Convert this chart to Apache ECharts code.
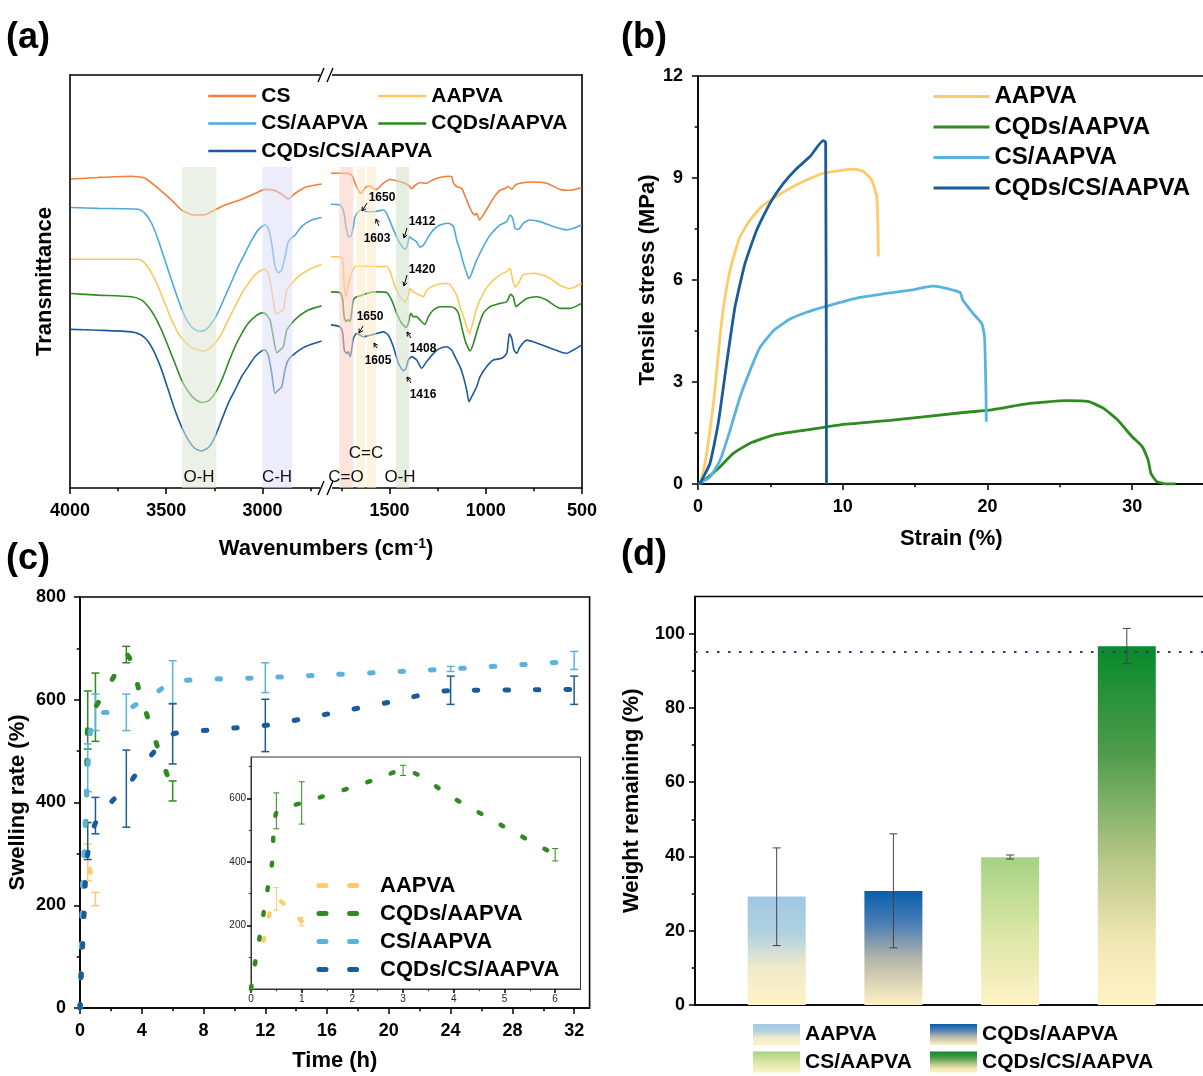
<!DOCTYPE html>
<html>
<head>
<meta charset="utf-8">
<script src="https://cdn.jsdelivr.net/npm/echarts@6/dist/echarts.min.js"></script>
<style>
html, body { margin: 0; padding: 0; background: #fff; }
#chart { width: 1203px; height: 1076px; }
</style>
</head>
<body>
<div id="chart"></div>
<script>
// ---------- (a) FTIR spectra: [wavenumber cm-1, transmittance a.u.] ----------
const ftirCSLeft = [[3995,74.8],[3853,75.2],[3680,75.5],[3610,75.0],[3541,72.5],[3472,69.7],[3420,67.3],[3359,66.1],[3299,66.2],[3247,67.3],[3195,68.5],[3108,69.9],[3039,71.3],[2987,72.3],[2935,72.0],[2900,71.1],[2866,70.0],[2831,71.3],[2779,72.8],[2693,73.6]];
const ftirCSRight = [[1804,76.2],[1722,76.2],[1697,75.8],[1679,73.8],[1662,72.1],[1650,71.3],[1636,72.1],[1619,73.0],[1601,73.1],[1584,72.5],[1567,72.3],[1532,73.8],[1497,74.7],[1463,74.4],[1428,73.9],[1402,73.3],[1385,72.5],[1367,73.3],[1342,73.9],[1307,73.8],[1272,74.7],[1238,75.2],[1194,75.5],[1177,75.4],[1168,73.8],[1151,73.0],[1125,72.5],[1099,69.7],[1073,66.9],[1056,66.1],[1047,66.5],[1033,64.9],[1013,66.1],[987,68.1],[961,70.1],[926,72.1],[900,72.5],[883,73.0],[865,72.3],[848,73.3],[822,73.8],[753,74.1],[684,73.8],[614,72.3],[562,72.1],[502,72.7]];

const ftirCSAAPVALeft = [[3995,67.9],[3853,67.7],[3645,67.5],[3610,66.5],[3576,64.1],[3541,60.0],[3507,55.2],[3472,50.3],[3437,45.5],[3403,41.5],[3368,39.0],[3333,38.0],[3299,38.2],[3264,39.9],[3229,42.7],[3195,46.3],[3160,50.0],[3126,53.6],[3091,56.8],[3056,60.0],[3022,62.5],[2987,63.7],[2970,62.9],[2952,59.2],[2935,53.6],[2918,52.1],[2900,52.8],[2883,56.0],[2866,59.6],[2849,60.6],[2831,61.2],[2797,63.3],[2745,64.9],[2693,65.5]];
const ftirCSAAPVARight = [[1804,68.7],[1757,68.5],[1740,67.3],[1726,63.3],[1717,61.2],[1709,60.8],[1700,61.0],[1688,63.3],[1679,65.7],[1662,66.9],[1645,67.3],[1619,66.9],[1584,66.9],[1558,67.1],[1532,67.3],[1515,66.5],[1497,64.5],[1471,61.6],[1445,59.2],[1419,57.8],[1407,58.8],[1397,60.8],[1385,60.4],[1359,59.6],[1342,58.3],[1324,58.8],[1298,60.8],[1272,62.5],[1238,63.7],[1194,64.1],[1168,63.3],[1151,60.0],[1134,57.6],[1116,54.4],[1099,52.0],[1087,50.7],[1073,52.0],[1047,55.2],[1013,58.4],[978,61.2],[926,63.7],[891,64.5],[874,66.1],[860,65.3],[848,62.9],[831,62.6],[805,64.1],[770,64.9],[718,64.5],[649,63.3],[580,62.5],[545,62.9],[502,63.7]];

const ftirAAPVALeft = [[3995,55.4],[3853,55.4],[3645,55.4],[3610,54.4],[3576,52.0],[3541,48.7],[3507,44.7],[3472,40.7],[3437,37.4],[3403,35.4],[3368,34.0],[3333,33.4],[3307,33.2],[3281,33.6],[3247,35.0],[3212,37.4],[3178,40.7],[3143,43.9],[3108,47.1],[3074,49.5],[3039,51.6],[3004,52.8],[2987,52.9],[2970,52.0],[2952,47.9],[2935,42.7],[2926,42.1],[2909,42.7],[2892,43.1],[2874,47.9],[2848,49.5],[2814,51.2],[2762,52.8],[2693,54.1]];
const ftirAAPVARight = [[1804,56.0],[1757,56.0],[1743,55.2],[1735,48.7],[1726,46.3],[1717,48.7],[1709,50.3],[1697,52.0],[1679,53.6],[1653,53.7],[1619,53.7],[1549,53.6],[1515,53.7],[1497,52.4],[1471,48.7],[1445,46.3],[1419,45.1],[1402,46.7],[1393,48.3],[1376,47.5],[1342,46.7],[1324,46.3],[1307,47.9],[1272,48.9],[1220,49.5],[1194,49.5],[1177,48.7],[1151,46.7],[1134,43.9],[1116,41.5],[1099,39.0],[1085,37.4],[1073,39.0],[1047,43.5],[1013,47.1],[978,49.5],[926,51.6],[891,52.4],[874,53.2],[860,50.3],[848,48.7],[831,49.5],[805,51.6],[753,52.0],[684,51.2],[614,49.1],[562,48.3],[502,49.5]];

const ftirCQDsLeft = [[3995,47.1],[3853,46.7],[3680,46.3],[3628,45.5],[3593,43.9],[3559,41.5],[3524,38.2],[3489,34.2],[3455,30.2],[3420,26.1],[3385,23.3],[3351,21.5],[3316,20.7],[3281,21.1],[3247,22.9],[3212,26.1],[3178,30.2],[3143,34.2],[3108,37.4],[3074,39.9],[3039,41.5],[3004,42.4],[2987,42.3],[2961,40.7],[2944,36.6],[2926,32.8],[2909,33.4],[2892,34.2],[2874,38.2],[2848,39.9],[2814,41.5],[2762,43.1],[2693,44.1]];
const ftirCQDsRight = [[1804,47.5],[1757,47.3],[1743,45.5],[1736,41.5],[1726,40.3],[1714,40.7],[1705,40.3],[1697,42.3],[1688,45.5],[1671,46.3],[1653,46.5],[1619,47.1],[1584,47.5],[1549,47.5],[1515,47.3],[1489,45.5],[1463,42.3],[1437,39.9],[1414,38.9],[1402,39.9],[1390,42.3],[1376,41.5],[1359,41.5],[1342,40.7],[1316,39.6],[1298,41.5],[1272,43.1],[1238,43.9],[1186,43.9],[1160,43.5],[1142,42.3],[1125,39.0],[1108,35.8],[1090,33.8],[1082,33.2],[1064,35.0],[1039,39.0],[1013,42.3],[978,43.9],[926,44.7],[891,45.1],[871,46.9],[857,46.3],[843,43.9],[822,44.7],[787,45.9],[735,46.3],[684,45.5],[614,43.5],[562,43.5],[502,44.7]];

const ftirCQDsCSLeft = [[3995,38.4],[3853,38.2],[3680,37.8],[3628,37.0],[3593,35.4],[3559,32.6],[3524,28.6],[3489,23.7],[3455,18.9],[3420,14.8],[3385,11.6],[3351,9.6],[3316,9.0],[3281,9.8],[3247,12.4],[3212,16.5],[3178,20.5],[3143,23.7],[3108,27.0],[3074,29.4],[3039,31.8],[3004,33.2],[2987,33.4],[2970,32.2],[2952,27.8],[2935,22.9],[2918,23.7],[2900,24.5],[2883,28.6],[2866,31.0],[2831,32.6],[2779,34.2],[2693,35.6]];
const ftirCQDsCSRight = [[1804,39.5],[1757,39.0],[1743,37.4],[1735,33.4],[1722,32.6],[1714,33.0],[1705,31.8],[1697,33.4],[1688,36.2],[1671,37.4],[1653,37.0],[1636,36.6],[1601,37.0],[1567,37.4],[1532,37.8],[1506,37.0],[1480,34.2],[1454,30.2],[1428,28.4],[1414,29.0],[1402,31.0],[1385,31.8],[1359,31.0],[1333,29.0],[1307,30.6],[1272,32.6],[1238,33.8],[1203,34.2],[1177,33.4],[1160,31.8],[1134,29.4],[1116,26.9],[1099,23.7],[1087,20.9],[1073,22.1],[1056,23.7],[1047,24.5],[1030,26.9],[995,29.4],[961,31.0],[917,31.4],[891,32.6],[877,37.4],[865,36.2],[853,33.4],[839,32.6],[822,34.2],[787,35.8],[753,35.4],[684,34.2],[614,33.0],[580,32.6],[545,33.4],[502,34.6]];

// shaded absorption bands [from, to] in cm-1, and their height
const ftirBandsLeft = [[3418, 3240], [3000, 2845]];
const ftirBandsRight = [[1761, 1688], [1670, 1627], [1618, 1570], [1466, 1397]];
const ftirBandTop = 77.7;

// ---------- (b) tensile curves: [strain %, stress MPa] ----------
const tensileAAPVA = [[0,0],[0.14,0.02],[0.48,0.61],[0.83,1.59],[1.17,2.76],[1.52,4.33],[1.87,5.51],[2.33,6.49],[2.9,7.27],[3.59,7.76],[4.4,8.16],[5.2,8.4],[6.36,8.7],[7.51,8.94],[8.66,9.14],[9.81,9.22],[10.85,9.26],[11.43,9.19],[12.0,8.94],[12.35,8.45],[12.43,7.6],[12.46,6.69]];
const tensileCQDs = [[0,0],[0.14,0.02],[1.29,0.41],[2.44,0.9],[3.59,1.2],[5.21,1.44],[7.51,1.59],[9.81,1.74],[13.27,1.87],[18.5,2.11],[20.3,2.18],[22.9,2.37],[25.4,2.45],[27,2.42],[28,2.23],[29,1.88],[30,1.39],[30.7,1.1],[31.1,0.71],[31.3,0.31],[31.7,0.07],[32.4,0],[33,0]];
const tensileCS = [[0,0],[0.14,0.02],[0.83,0.2],[1.52,0.69],[2.21,1.57],[2.9,2.55],[3.59,3.33],[4.29,4.02],[5.21,4.51],[6.36,4.85],[7.51,5.05],[8.66,5.2],[9.81,5.34],[10.96,5.47],[12.6,5.58],[14.7,5.7],[16.2,5.82],[16.7,5.8],[18.1,5.64],[18.3,5.41],[19.0,5.02],[19.6,4.73],[19.8,4.33],[19.9,2.67],[19.92,1.83]];
const tensileCQDsCS = [[0,0],[0.14,0.02],[0.83,0.61],[1.4,1.79],[1.98,3.55],[2.56,5.21],[3.25,6.49],[4.06,7.47],[4.98,8.26],[5.9,8.84],[6.82,9.28],[7.74,9.63],[8.64,10.1],[8.82,10.05],[8.88,0]];

// ---------- (c) swelling rate vs time ----------
const swellTimeAAPVA = [0, 0.083, 0.25, 0.5, 1];
const swellAAPVA = [0, 80, 155, 283, 213];
const swellTimeCQDs = [0, 0.083, 0.167, 0.25, 0.333, 0.417, 0.5, 1, 1.5, 2, 2.5, 3, 4, 5, 6];
const swellCQDs = [0, 85, 160, 240, 320, 398, 555, 585, 610, 635, 662, 688, 600, 510, 423];
const swellTimeCS = [0, 0.083, 0.167, 0.25, 0.333, 0.417, 0.5, 1, 2, 3, 4, 5, 6, 12, 24, 32];
const swellCS = [0, 120, 240, 300, 360, 420, 468, 575, 575, 580, 598, 615, 635, 643, 660, 675];
const swellTimeCQDsCS = [0, 0.083, 0.167, 0.25, 0.333, 0.5, 1, 2, 3, 4, 5, 6, 8, 10, 12, 16, 20, 24, 28, 32];
const swellCQDsCS = [0, 65, 120, 180, 240, 300, 360, 400, 430, 470, 505, 533, 540, 545, 550, 572, 595, 618, 619, 620];
// error bars [time, low, high]
const swellErrAAPVA = [[0.5, 248, 319], [1, 199, 225]];
const swellErrCQDs = [[0.5, 504, 617], [1, 519, 652], [3, 672, 704], [6, 403, 442]];
const swellErrCS = [[0.5, 421, 514], [1, 540, 611], [3, 540, 611], [6, 593, 676], [12, 614, 672], [24, 655, 665], [32, 659, 694]];
const swellErrCQDsCS = [[0.5, 289, 361], [1, 339, 410], [3, 352, 502], [6, 475, 592], [12, 499, 601], [24, 591, 646], [32, 591, 646]];

// ---------- (d) weight remaining ----------
const degradeNames = ['AAPVA', 'CQDs/AAPVA', 'CS/AAPVA', 'CQDs/CS/AAPVA'];
const degradeValues = [29.2, 30.7, 39.8, 96.6];
const degradeLow = [16.0, 15.4, 39.3, 92.0];
const degradeHigh = [42.3, 46.1, 40.4, 101.4];
const degradeLimit = 95;

// ---------- styles ----------
const FONT = '"Liberation Sans", Arial, Helvetica, sans-serif';
const tickLabel = { fontSize: 18, fontWeight: 'bold', color: '#000', fontFamily: FONT, formatter: v => String(v) };
const nameText = { fontSize: 22, fontWeight: 'bold', color: '#000', fontFamily: FONT };
const frameLine = { show: true, lineStyle: { color: '#000', width: 1.6 } };
const tickStyle = { color: '#000', width: 1.5 };
const strip = n => n.split('|')[1];

// major axis + a second axis on the same spot that only draws the minor ticks
function axisPair(base, major, minor, len, label) {
  const main = Object.assign({ type: 'value', splitLine: { show: false } }, base, {
    axisLine: base.axisLine || frameLine,
    axisTick: { show: true, length: len, lineStyle: tickStyle, customValues: major },
    axisLabel: Object.assign({ show: true, customValues: major }, tickLabel, label)
  });
  const sub = Object.assign({ type: 'value', splitLine: { show: false } }, base, {
    name: '', axisLine: { show: false },
    axisTick: { show: true, length: len * 0.55, lineStyle: base.axisTick || tickStyle, customValues: minor },
    axisLabel: { show: false }
  });
  return [main, sub];
}
function lineOnly(base) {
  return Object.assign({ type: 'value', axisLine: frameLine, axisTick: { show: false }, axisLabel: { show: false }, splitLine: { show: false } }, base);
}

const xAxis = [
  ...axisPair({ gridIndex: 0, min: 2670, max: 4000, inverse: true, position: 'bottom' }, [4000, 3500, 3000], [3750, 3250, 2750], 6, { margin: 14 }),
  lineOnly({ gridIndex: 0, min: 2670, max: 4000, inverse: true, position: 'top' }),
  ...axisPair({ gridIndex: 1, min: 500, max: 1830, inverse: true, position: 'bottom' }, [1500, 1000, 500], [1750, 1250, 750], 6, { margin: 14 }),
  lineOnly({ gridIndex: 1, min: 500, max: 1830, inverse: true, position: 'top' }),
  ...axisPair({ gridIndex: 2, min: 0, max: 35, position: 'bottom', name: 'Strain (%)', nameLocation: 'middle', nameGap: 44, nameTextStyle: nameText },
    [0, 10, 20, 30], [5, 15, 25], 6, { margin: 14 }),
  ...axisPair({ gridIndex: 3, min: 0, max: 33, position: 'bottom', name: 'Time (h)', nameLocation: 'middle', nameGap: 42, nameTextStyle: nameText },
    [0, 4, 8, 12, 16, 20, 24, 28, 32], [2, 6, 10, 14, 18, 22, 26, 30], 6, { margin: 14 }),
  ...axisPair({ gridIndex: 4, min: 0, max: 6.5, position: 'bottom', axisLine: { show: true, lineStyle: { color: '#333', width: 1 } }, axisTick: { color: '#333', width: 1 } },
    [0, 1, 2, 3, 4, 5, 6], [0.5, 1.5, 2.5, 3.5, 4.5, 5.5], 4, { fontSize: 10, fontWeight: 'normal', color: '#222', margin: 5 }),
  lineOnly({ gridIndex: 5, min: 0.3, max: 4.7, position: 'bottom' })
];

const yAxis = [
  lineOnly({ gridIndex: 0, min: 0, max: 100, position: 'left', name: 'Transmittance', nameLocation: 'middle', nameGap: 14, nameTextStyle: nameText }),
  lineOnly({ gridIndex: 1, min: 0, max: 100, position: 'right' }),
  ...axisPair({ gridIndex: 2, min: 0, max: 12, position: 'left', name: 'Tensile stress (MPa)', nameLocation: 'middle', nameGap: 39, nameTextStyle: nameText },
    [0, 3, 6, 9, 12], [1.5, 4.5, 7.5, 10.5], 6, { margin: 15 }),
  ...axisPair({ gridIndex: 3, min: 0, max: 800, position: 'left', name: 'Swelling rate (%)', nameLocation: 'middle', nameGap: 51, nameTextStyle: nameText },
    [0, 200, 400, 600, 800], [100, 300, 500, 700], 6, { margin: 14 }),
  ...axisPair({ gridIndex: 4, min: 0, max: 730, position: 'left', axisLine: { show: true, lineStyle: { color: '#333', width: 1 } }, axisTick: { color: '#333', width: 1 } },
    [200, 400, 600], [100, 300, 500, 700], 4, { fontSize: 10, fontWeight: 'normal', color: '#222', margin: 5 }),
  ...axisPair({ gridIndex: 5, min: 0, max: 110, position: 'left', name: 'Weight remaining (%)', nameLocation: 'middle', nameGap: 52, nameTextStyle: nameText },
    [0, 20, 40, 60, 80, 100], [10, 30, 50, 70, 90], 6, { margin: 10 })
];

// ---------- series helpers ----------
function ftirLine(name, data, color, xi, yi) {
  return { name, type: 'line', xAxisIndex: xi, yAxisIndex: yi, data, symbol: 'none', smooth: 0.2,
    lineStyle: { color, width: 1.6 }, itemStyle: { color }, silent: true };
}
function bandSeries(xi, yi, bands, colors) {
  return { type: 'line', xAxisIndex: xi, yAxisIndex: yi, data: [], z: 5, silent: true,
    markArea: { silent: true, z: 5, label: { show: false },
      data: bands.map((b, i) => [{ xAxis: b[0], yAxis: 0, itemStyle: { color: colors[i], opacity: 0.55 } }, { xAxis: b[1], yAxis: ftirBandTop }]) } };
}
function tensileLine(name, data, color) {
  return { name, type: 'line', xAxisIndex: 6, yAxisIndex: 2, data, symbol: 'none', smooth: 0.15,
    lineStyle: { color, width: 2.8 }, itemStyle: { color } };
}
function swellLine(name, t, v, color, xi, yi, dash, w) {
  return { name, type: 'line', xAxisIndex: xi, yAxisIndex: yi, data: t.map((x, i) => [x, v[i]]), symbol: 'none', smooth: 0.3,
    lineStyle: { color, width: w, type: dash, cap: 'round' }, itemStyle: { color } };
}
function errorBars(data, xi, yi, color, cap, width) {
  return { type: 'custom', xAxisIndex: xi, yAxisIndex: yi, data, z: 3, silent: true, encode: { x: 0, y: [1, 2] },
    renderItem(params, api) {
      const lo = api.coord([api.value(0), api.value(1)]);
      const hi = api.coord([api.value(0), api.value(2)]);
      const s = { stroke: color, lineWidth: width };
      return { type: 'group', children: [
        { type: 'line', shape: { x1: lo[0], y1: lo[1], x2: hi[0], y2: hi[1] }, style: s },
        { type: 'line', shape: { x1: lo[0] - cap / 2, y1: lo[1], x2: lo[0] + cap / 2, y2: lo[1] }, style: s },
        { type: 'line', shape: { x1: hi[0] - cap / 2, y1: hi[1], x2: hi[0] + cap / 2, y2: hi[1] }, style: s }
      ] };
    } };
}

const cOrange = '#f47d3a', cYellowA = '#ffc85e', cLightA = '#4ea9da', cGreenA = '#2e8a22', cDarkA = '#1d5a9c';
const cYellow = '#fecb6b', cGreen = '#2f8a1f', cLight = '#5ab3df', cDark = '#1a5b9c';

const degradeStops = [
  [{ offset: 0, color: '#9fc7e4' }, { offset: 0.35, color: '#b3d2e0' }, { offset: 0.65, color: '#f0eacb' }, { offset: 1, color: '#fff2c6' }],
  [{ offset: 0, color: '#075fac' }, { offset: 0.3, color: '#4f80b4' }, { offset: 0.6, color: '#b5b7aa' }, { offset: 1, color: '#fff1c4' }],
  [{ offset: 0, color: '#a6d282' }, { offset: 0.5, color: '#d9e6a4' }, { offset: 1, color: '#fff2c6' }],
  [{ offset: 0, color: '#078a2a' }, { offset: 0.3, color: '#4f9c4c' }, { offset: 0.6, color: '#b8c887' }, { offset: 0.82, color: '#f1e7b4' }, { offset: 1, color: '#fff3c6' }]
];

const series = [
  ftirLine('a|CS', ftirCSLeft, cOrange, 0, 0), ftirLine('a|CS', ftirCSRight, cOrange, 3, 1),
  ftirLine('a|CS/AAPVA', ftirCSAAPVALeft, cLightA, 0, 0), ftirLine('a|CS/AAPVA', ftirCSAAPVARight, cLightA, 3, 1),
  ftirLine('a|AAPVA', ftirAAPVALeft, cYellowA, 0, 0), ftirLine('a|AAPVA', ftirAAPVARight, cYellowA, 3, 1),
  ftirLine('a|CQDs/AAPVA', ftirCQDsLeft, cGreenA, 0, 0), ftirLine('a|CQDs/AAPVA', ftirCQDsRight, cGreenA, 3, 1),
  ftirLine('a|CQDs/CS/AAPVA', ftirCQDsCSLeft, cDarkA, 0, 0), ftirLine('a|CQDs/CS/AAPVA', ftirCQDsCSRight, cDarkA, 3, 1),
  bandSeries(0, 0, ftirBandsLeft, ['#dce5d5', '#dcdcf6']),
  bandSeries(3, 1, ftirBandsRight, ['#facebf', '#fde9c3', '#fde9c3', '#d2e0ca']),

  tensileLine('b|AAPVA', tensileAAPVA, cYellow),
  tensileLine('b|CQDs/AAPVA', tensileCQDs, cGreen),
  tensileLine('b|CS/AAPVA', tensileCS, cLight),
  tensileLine('b|CQDs/CS/AAPVA', tensileCQDsCS, cDark),

  swellLine('c|AAPVA', swellTimeAAPVA, swellAAPVA, cYellow, 8, 4, [3.5, 27], 5),
  swellLine('c|CQDs/AAPVA', swellTimeCQDs, swellCQDs, cGreen, 8, 4, [3.5, 27], 5),
  swellLine('c|CS/AAPVA', swellTimeCS, swellCS, cLight, 8, 4, [3.5, 27], 5),
  swellLine('c|CQDs/CS/AAPVA', swellTimeCQDsCS, swellCQDsCS, cDark, 8, 4, [3.5, 27], 5),
  errorBars(swellErrAAPVA, 8, 4, cYellow, 8, 1.5),
  errorBars(swellErrCQDs, 8, 4, cGreen, 8, 1.5),
  errorBars(swellErrCS, 8, 4, cLight, 8, 1.5),
  errorBars(swellErrCQDsCS, 8, 4, cDark, 8, 1.5),
  swellLine('c|AAPVA', swellTimeAAPVA, swellAAPVA, cYellow, 10, 6, [3, 22], 4.5),
  swellLine('c|CQDs/AAPVA', swellTimeCQDs, swellCQDs, cGreen, 10, 6, [3, 22], 4.5),
  errorBars(swellErrAAPVA, 10, 6, cYellow, 6, 1),
  errorBars(swellErrCQDs, 10, 6, cGreen, 6, 1),

  ...degradeNames.map((n, i) => ({
    name: 'd|' + n, type: 'bar', xAxisIndex: 12, yAxisIndex: 8, data: [[i + 1, degradeValues[i]]],
    barWidth: 58, barGap: '-100%',
    itemStyle: { color: new echarts.graphic.LinearGradient(0, 0, 0, 1, degradeStops[i]) },
    markLine: i === 0 ? { silent: true, symbol: 'none', label: { show: false },
      lineStyle: { type: [2.5, 8.5], color: '#4e2a8e', width: 2.2 }, data: [{ yAxis: degradeLimit }] } : undefined
  })),
  errorBars(degradeNames.map((n, i) => [i + 1, degradeLow[i], degradeHigh[i]]), 12, 8, '#444', 8, 1)
];

// ---------- decorations for (a) ----------
function breakMark(x, y) {
  return [
    { type: 'rect', z: 100, shape: { x: x - 6, y: y - 3, width: 12, height: 6 }, style: { fill: '#fff' } },
    { type: 'line', z: 101, shape: { x1: x - 8, y1: y + 7, x2: x - 2, y2: y - 7 }, style: { stroke: '#000', lineWidth: 1.4 } },
    { type: 'line', z: 101, shape: { x1: x + 1, y1: y + 7, x2: x + 7, y2: y - 7 }, style: { stroke: '#000', lineWidth: 1.4 } }
  ];
}
function note(text, tx, ty, x1, y1, x2, y2) {
  const a = Math.atan2(y2 - y1, x2 - x1), h = 4.5;
  return [
    { type: 'text', z: 50, x: tx, y: ty, style: { text, font: 'bold 12px ' + FONT, fill: '#000', textAlign: 'center', textVerticalAlign: 'middle' } },
    { type: 'line', z: 50, shape: { x1, y1, x2, y2 }, style: { stroke: '#000', lineWidth: 1 } },
    { type: 'polyline', z: 50, shape: { points: [[x2 - h * Math.cos(a - 0.5), y2 - h * Math.sin(a - 0.5)], [x2, y2], [x2 - h * Math.cos(a + 0.5), y2 - h * Math.sin(a + 0.5)]] },
      style: { stroke: '#000', lineWidth: 1, fill: null } }
  ];
}
function bandLabel(text, x, y) {
  return { type: 'text', z: 50, x, y, style: { text, font: '17px ' + FONT, fill: '#111', textAlign: 'center', textVerticalAlign: 'middle' } };
}

const graphic = [
  ...breakMark(326, 75), ...breakMark(326, 488),
  ...note('1650', 382, 198, 367, 203, 362, 211),
  ...note('1603', 377, 239, 379, 226, 376, 219),
  ...note('1412', 422, 222, 407, 228, 404, 238),
  ...note('1420', 422, 270, 407, 275, 404, 286),
  ...note('1650', 370, 317, 363, 326, 359, 333),
  ...note('1605', 378, 361, 377, 348, 374, 343),
  ...note('1408', 423, 349, 411, 338, 407, 332),
  ...note('1416', 423, 395, 411, 383, 407, 377),
  bandLabel('O-H', 199, 477), bandLabel('C-H', 277, 477), bandLabel('C=O', 346, 477),
  bandLabel('C=C', 366, 453), bandLabel('O-H', 400, 477),
  { type: 'text', z: 50, x: 326, y: 549, style: {
      text: 'Wavenumbers (cm{sup|-1})', font: 'bold 22px ' + FONT, fill: '#000', textAlign: 'center', textVerticalAlign: 'middle',
      rich: { sup: { fontSize: 14, fontWeight: 'bold', fontFamily: FONT, verticalAlign: 'top', padding: [0, 0, 10, 0] } } } }
];

const legendBase = (size) => ({ orient: 'vertical', padding: 0, formatter: strip, selectedMode: false,
  textStyle: { fontSize: size, fontWeight: 'bold', color: '#000', fontFamily: FONT }, itemStyle: { opacity: 0 } });
const panelLabel = { fontSize: 36, fontWeight: 'bold', color: '#000', fontFamily: FONT };

const option = {
  animation: false,
  backgroundColor: '#fff',
  textStyle: { fontFamily: FONT },
  title: [
    { text: '(a)', left: 6, top: 20, padding: 0, textStyle: panelLabel },
    { text: '(b)', left: 621, top: 20, padding: 0, textStyle: panelLabel },
    { text: '(c)', left: 6, top: 541, padding: 0, textStyle: panelLabel },
    { text: '(d)', left: 621, top: 537, padding: 0, textStyle: panelLabel }
  ],
  grid: [
    { left: 70, top: 75, width: 256, height: 413, outerBoundsMode: 'none' },
    { left: 326, top: 75, width: 256, height: 413, outerBoundsMode: 'none' },
    { left: 698, top: 76, width: 506.5, height: 408, show: true, borderColor: '#000', borderWidth: 1.6, outerBoundsMode: 'none' },
    { left: 80, top: 597, width: 509.6, height: 411, show: true, borderColor: '#000', borderWidth: 1.6, outerBoundsMode: 'none' },
    { left: 251, top: 757, width: 329.5, height: 232, show: true, backgroundColor: '#fff', borderColor: '#333', borderWidth: 1, outerBoundsMode: 'none' },
    { left: 695, top: 596.5, width: 513.5, height: 408.5, show: true, borderColor: '#000', borderWidth: 1.6, outerBoundsMode: 'none' }
  ],
  legend: [
    Object.assign(legendBase(21), { data: ['a|CS', 'a|CS/AAPVA', 'a|CQDs/CS/AAPVA'], left: 207, top: 85.5, itemGap: 6.5, itemWidth: 48, itemHeight: 12, lineStyle: { width: 2.5 } }),
    Object.assign(legendBase(21), { data: ['a|AAPVA', 'a|CQDs/AAPVA'], left: 377, top: 85.5, itemGap: 6.5, itemWidth: 48, itemHeight: 12, lineStyle: { width: 2.5 } }),
    Object.assign(legendBase(24), { data: ['b|AAPVA', 'b|CQDs/AAPVA', 'b|CS/AAPVA', 'b|CQDs/CS/AAPVA'], left: 932, top: 84.5, itemGap: 6.5, itemWidth: 56, itemHeight: 12, lineStyle: { width: 3 } }),
    Object.assign(legendBase(22), { data: ['c|AAPVA', 'c|CQDs/AAPVA', 'c|CS/AAPVA', 'c|CQDs/CS/AAPVA'], left: 316.5, top: 874.5, itemGap: 6, itemWidth: 56, itemHeight: 12,
      lineStyle: { width: 5, type: [7, 23.6], cap: 'round' } }),
    Object.assign(legendBase(21), { data: ['d|AAPVA', 'd|CS/AAPVA'], left: 753, top: 1024, itemGap: 6.5, itemWidth: 47, itemHeight: 21, icon: 'rect', itemStyle: {} }),
    Object.assign(legendBase(21), { data: ['d|CQDs/AAPVA', 'd|CQDs/CS/AAPVA'], left: 930, top: 1024, itemGap: 6.5, itemWidth: 47, itemHeight: 21, icon: 'rect', itemStyle: {} })
  ],
  xAxis,
  yAxis,
  series,
  graphic
};

const chart = echarts.init(document.getElementById('chart'));
chart.setOption(option);
</script>
</body>
</html>
